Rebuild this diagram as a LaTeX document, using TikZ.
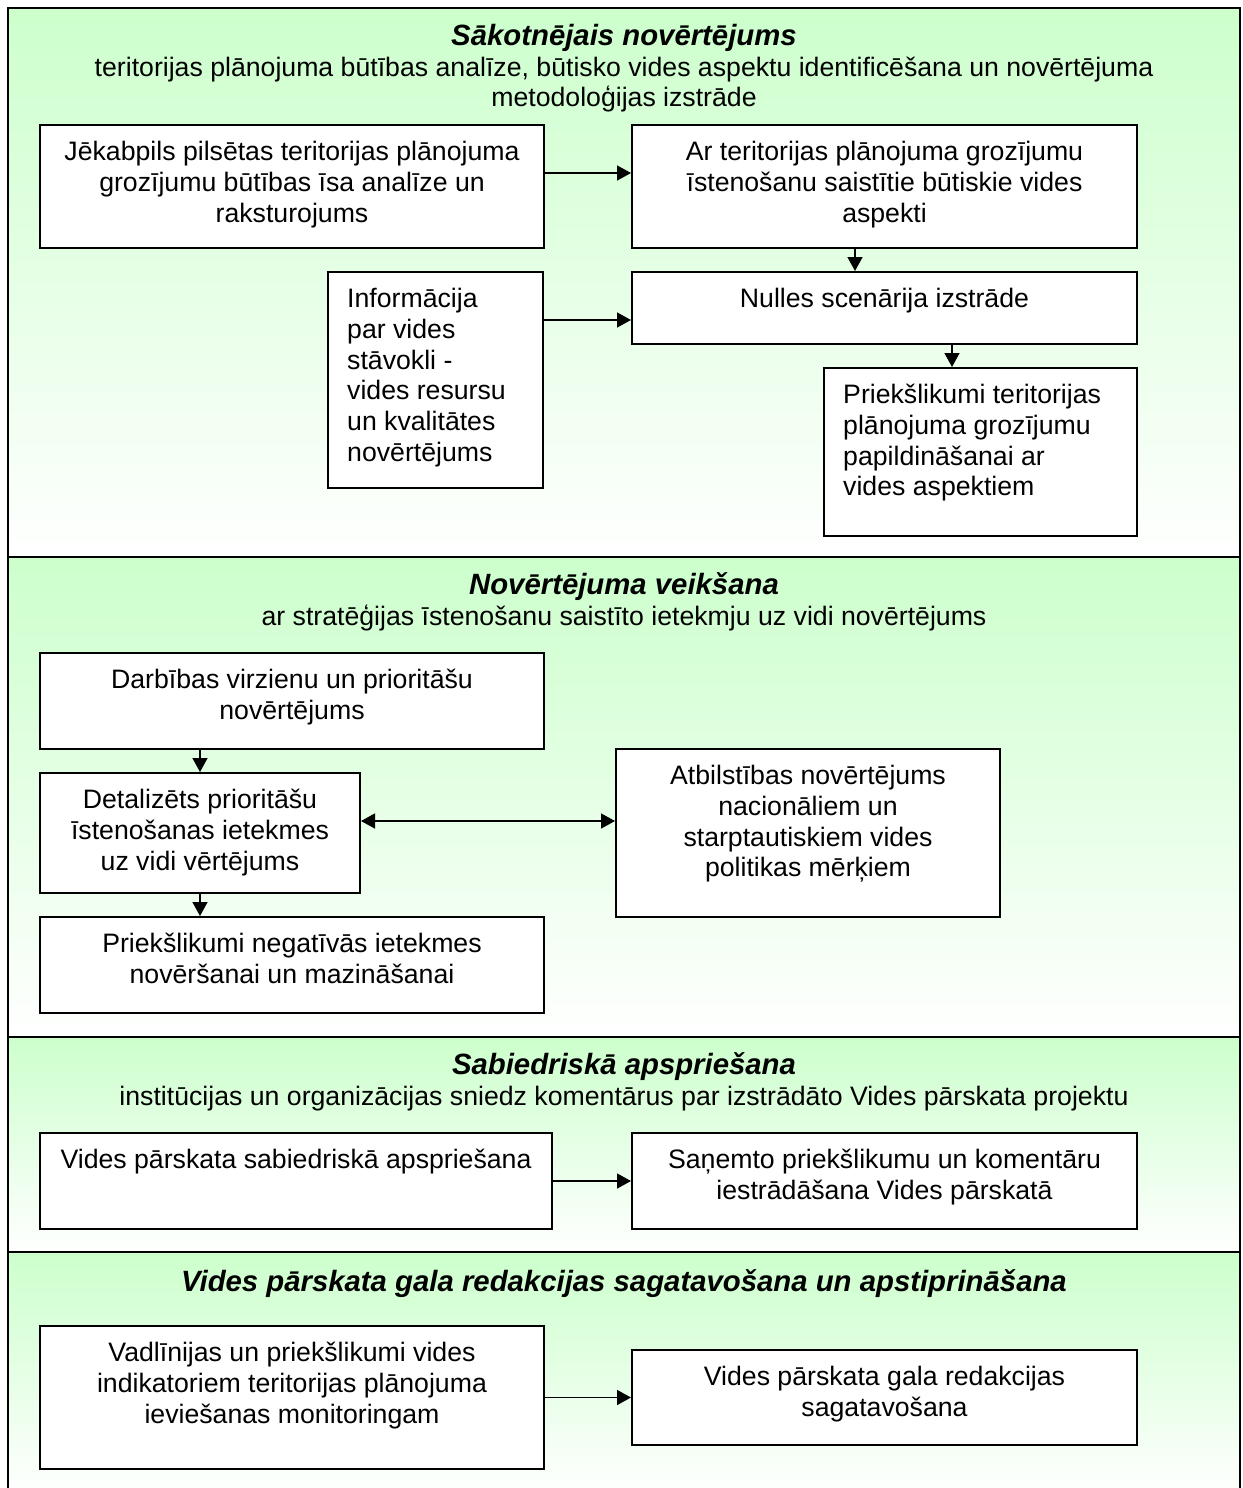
\documentclass[tikz,border=0pt]{standalone}
\usepackage{fontspec}
\setmainfont{Liberation Sans}
\usetikzlibrary{arrows.meta}
\definecolor{secgreen}{RGB}{204,255,204}
\tikzset{
  boxst/.style={draw=black, line width=2pt, fill=white, inner sep=0pt},
  txt/.style={inner sep=0pt, font=\fontsize{26.67}{30.67}\selectfont},
  ttl/.style={inner sep=0pt, font=\fontsize{29.33}{33}\selectfont\bfseries\itshape},
  arr/.style={line width=1.5pt, -{Triangle[length=14pt,width=15pt]}},
  darr/.style={line width=1.5pt, {Triangle[length=14pt,width=15pt]}-{Triangle[length=14pt,width=15pt]}},
  secline/.style={draw=black, line width=2pt},
}
\newcommand{\cbox}[6]{%
  \node[boxst, minimum width={#4-#2}, minimum height={#5-#3}] (#1) at ({(#2+#4)/2},{(#3+#5)/2}) {};
  \node[txt, anchor=north, align=center, yshift=-11.5pt] (#1t) at (#1.north) {\rule{0pt}{25pt}#6};
}
\newcommand{\lbox}[6]{%
  \node[boxst, minimum width={#4-#2}, minimum height={#5-#3}] (#1) at ({(#2+#4)/2},{(#3+#5)/2}) {};
  \node[txt, anchor=north west, align=left, yshift=-11.5pt, xshift=20pt] (#1t) at (#1.north west) {\rule{0pt}{25pt}#6};
}
\begin{document}
\begin{tikzpicture}[x=1pt,y=-1pt]
\useasboundingbox (0,0) rectangle (1242,1488);
\clip (0,0) rectangle (1242,1488);
% section backgrounds
\shade[top color=secgreen, bottom color=white] (8,8) rectangle (1240,557);
\shade[top color=secgreen, bottom color=white] (8,557) rectangle (1240,1037);
\shade[top color=secgreen, bottom color=white] (8,1037) rectangle (1240,1252);
\shade[top color=secgreen, bottom color=white] (8,1252) rectangle (1240,1495);
\draw[secline] (8,1500) -- (8,8) -- (1240,8) -- (1240,1500);
\draw[secline] (8,557) -- (1240,557);
\draw[secline] (8,1037) -- (1240,1037);
\draw[secline] (8,1252) -- (1240,1252);
% headers
\node[ttl, anchor=base] (h1) at (624,45.5) {Sākotnējais novērtējums};
\node[txt, anchor=north, align=center] (h1s) at (624,51) {\rule{0pt}{25pt}teritorijas plānojuma būtības analīze, būtisko vides aspektu identificēšana un novērtējuma\\metodoloģijas izstrāde};
\node[ttl, anchor=base] (h2) at (624,594.5) {Novērtējuma veikšana};
\node[txt, anchor=base] (h2s) at (624,625) {ar stratēģijas īstenošanu saistīto ietekmju uz vidi novērtējums};
\node[ttl, anchor=base] (h3) at (624,1074.5) {Sabiedriskā apspriešana};
\node[txt, anchor=base] (h3s) at (624,1105) {institūcijas un organizācijas sniedz komentārus par izstrādāto Vides pārskata projektu};
\node[ttl, anchor=base] (h4) at (624,1291.5) {Vides pārskata gala redakcijas sagatavošana un apstiprināšana};
% boxes
\cbox{a}{40}{125}{544}{248}{Jēkabpils pilsētas teritorijas plānojuma\\grozījumu būtības īsa analīze un\\raksturojums}
\cbox{b}{632}{125}{1137}{248}{Ar teritorijas plānojuma grozījumu\\īstenošanu saistītie būtiskie vides\\aspekti}
\lbox{c}{328}{272}{543}{488}{Informācija\\par vides\\stāvokli -\\vides resursu\\un kvalitātes\\novērtējums}
\cbox{d}{632}{272}{1137}{344}{Nulles scenārija izstrāde}
\lbox{e}{824}{368}{1137}{536}{Priekšlikumi teritorijas\\plānojuma grozījumu\\papildināšanai ar\\vides aspektiem}
\cbox{f}{40}{653}{544}{749}{Darbības virzienu un prioritāšu\\novērtējums}
\cbox{g}{40}{773}{360}{893}{Detalizēts prioritāšu\\īstenošanas ietekmes\\uz vidi vērtējums}
\cbox{h}{616}{749}{1000}{917}{Atbilstības novērtējums\\nacionāliem un\\starptautiskiem vides\\politikas mērķiem}
\cbox{i}{40}{917}{544}{1013}{Priekšlikumi negatīvās ietekmes\\novēršanai un mazināšanai}
\cbox{j}{40}{1133}{552}{1229}{Vides pārskata sabiedriskā apspriešana}
\cbox{k}{632}{1133}{1137}{1229}{Saņemto priekšlikumu un komentāru\\iestrādāšana Vides pārskatā}
\cbox{l}{40}{1326}{544}{1469}{Vadlīnijas un priekšlikumi vides\\indikatoriem teritorijas plānojuma\\ieviešanas monitoringam}
\cbox{m}{632}{1350}{1137}{1445}{Vides pārskata gala redakcijas\\sagatavošana}
% connectors
\draw[arr] ([yshift=13.5pt]a.east) -- ([yshift=13.5pt]a.east -| b.west);
\draw[arr] ([xshift=-29.5pt]b.south) -- ([xshift=-29.5pt]b.south |- d.north);
\draw[arr] ([yshift=60pt]c.east) -- ([yshift=60pt]c.east -| d.west);
\draw[arr] ([xshift=67.5pt]d.south) -- ([xshift=67.5pt]d.south |- e.north);
\draw[arr] (g.north |- f.south) -- (g.north);
\draw[darr] ([yshift=12pt]g.east) -- ([yshift=12pt]g.east -| h.west);
\draw[arr] (g.south) -- (g.south |- i.north);
\draw[arr] (j.east) -- (j.east -| k.west);
\draw[arr] (l.east) -- (l.east -| m.west);
\end{tikzpicture}
\end{document}
